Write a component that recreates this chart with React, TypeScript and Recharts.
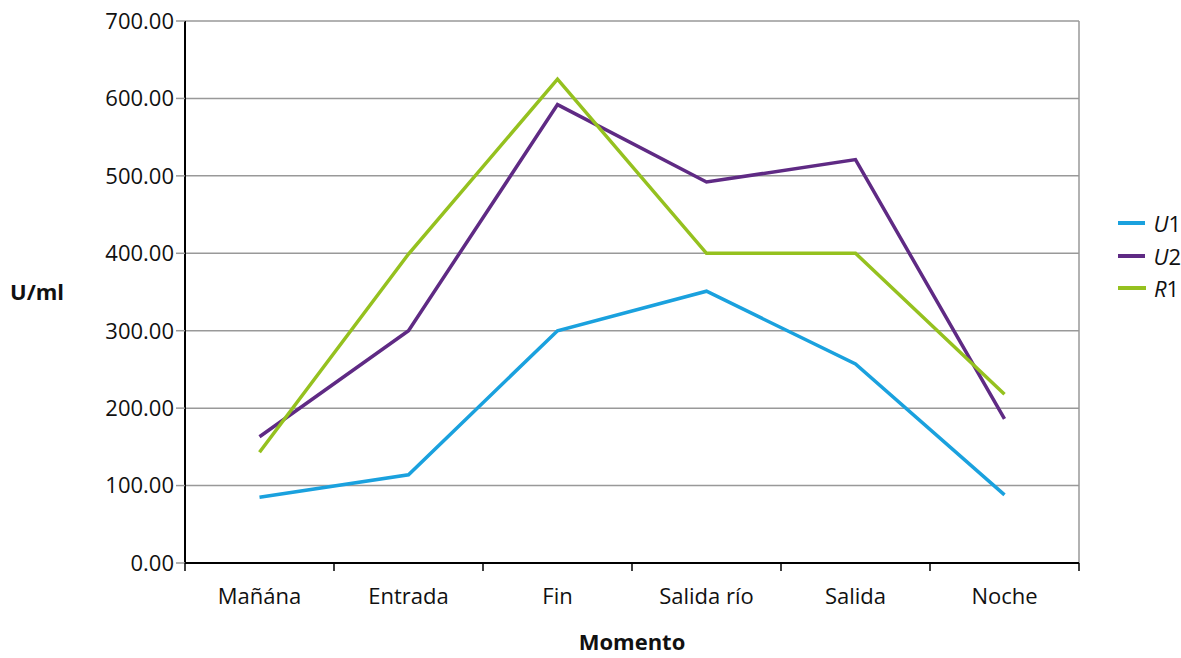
import { LineChart, Line, XAxis, YAxis, CartesianGrid, ReferenceLine, Legend, Label } from 'recharts';

const categories = ['Mañána', 'Entrada', 'Fin', 'Salida río', 'Salida', 'Noche'];
const u1 = [85, 114, 300, 351, 257, 88];
const u2 = [163, 300, 592, 492, 521, 186];
const r1 = [143, 399, 625, 400, 400, 218];
const yTicks = [0, 100, 200, 300, 400, 500, 600, 700];
const xTicks = [0, 1, 2, 3, 4, 5, 6];

const data = categories.map((name, i) => ({ name, x: i + 0.5, u1: u1[i], u2: u2[i], r1: r1[i] }));

const series = [
  { key: 'u1', letter: 'U', num: '1', color: '#1aa1de' },
  { key: 'u2', letter: 'U', num: '2', color: '#5f2a84' },
  { key: 'r1', letter: 'R', num: '1', color: '#95c11f' },
];

const FONT = '"Open Sans", "Noto Sans", sans-serif';
const FS = 22;

const XTick = (props: any) => {
  const { x, y, payload } = props;
  const band = 149;
  const label = categories[payload.value];
  return (
    <g>
      <line x1={x} y1={y - 8} x2={x} y2={y} stroke="#000" strokeWidth={1.5} />
      {label !== undefined && (
        <text x={x + band / 2} y={y + 33} textAnchor="middle" fontSize={FS} fill="#111" fontFamily={FONT}>
          {label}
        </text>
      )}
    </g>
  );
};

const LegendContent = () => (
  <div style={{ fontFamily: FONT, fontSize: FS, color: '#111' }}>
    {series.map((s) => (
      <div key={s.key} style={{ display: 'flex', alignItems: 'center', height: 32.5 }}>
        <span style={{ display: 'inline-block', width: 28, height: 4, background: s.color, marginRight: 8 }} />
        <span>
          <i>{s.letter}</i>
          {s.num}
        </span>
      </div>
    ))}
  </div>
);

export default function App() {
  return (
    <div style={{ width: 1181, height: 658 }}>
      <style>{'body{margin:0}'}</style>
      <LineChart width={1181} height={658} data={data} margin={{ top: 21, right: 39, left: 0, bottom: 0 }}>
        <CartesianGrid vertical={false} stroke="#999" strokeWidth={1.5} />
        <XAxis
          dataKey="x"
          type="number"
          domain={[0, 6]}
          ticks={xTicks}
          tick={<XTick />}
          tickLine={false}
          axisLine={{ stroke: '#000', strokeWidth: 2 }}
          height={95}
          interval={0}
        >
          <Label value="Momento" position="insideBottom" offset={0} dy={-8} fontSize={FS} fontWeight="bold" fill="#111" fontFamily={FONT} />
        </XAxis>
        <YAxis
          domain={[0, 700]}
          ticks={yTicks}
          width={185}
          tickSize={9}
          tickLine={{ stroke: '#999', strokeWidth: 1.5 }}
          axisLine={{ stroke: '#000', strokeWidth: 2 }}
          tickFormatter={(v: number) => v.toFixed(2)}
          tick={{ fontSize: FS, fill: '#111', fontFamily: FONT }}
        >
          <Label value="U/ml" position="insideLeft" offset={10} fontSize={FS} fontWeight="bold" fill="#111" fontFamily={FONT} />
        </YAxis>
        <ReferenceLine x={6} stroke="#999" strokeWidth={1.5} />
        <Legend
          layout="vertical"
          align="right"
          verticalAlign="top"
          content={<LegendContent />}
          wrapperStyle={{ right: 0, top: 207, width: 63 }}
        />
        {series.map((s) => (
          <Line
            key={s.key}
            dataKey={s.key}
            stroke={s.color}
            strokeWidth={3.5}
            dot={false}
            type="linear"
            isAnimationActive={false}
          />
        ))}
      </LineChart>
    </div>
  );
}
